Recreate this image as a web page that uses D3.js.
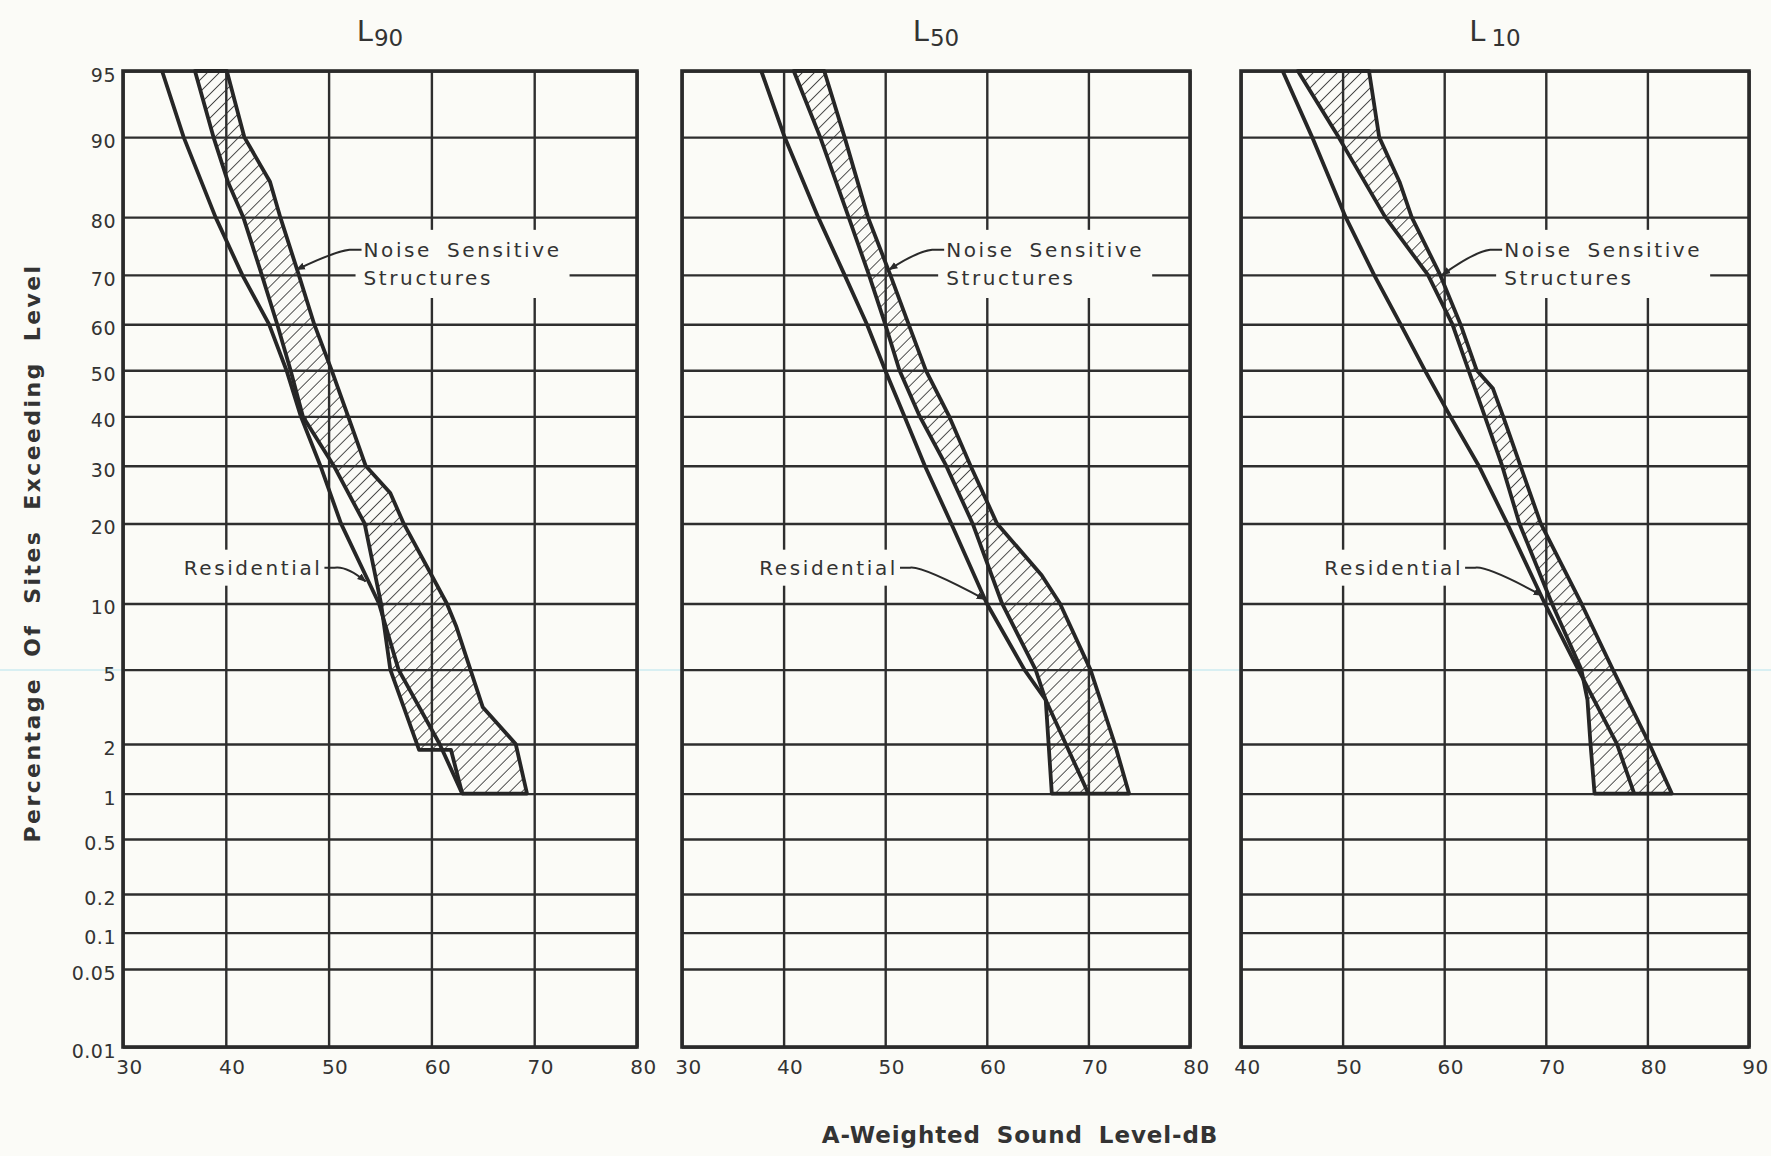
<!doctype html>
<html>
<head>
<meta charset="UTF-8">
<title>L90 L50 L10</title>
<script src="https://d3js.org/d3.v7.min.js"></script>
<style>
  body { margin: 0; background: #fbfbf7; }
  svg { display: block; }
  text { font-family: "DejaVu Sans", sans-serif; fill: #333; }
</style>
</head>
<body>
<script>
// ---- data: [percent of sites, dB] ----
var panelNames = ["90", "50", "10"];
var xDomains = [[30, 80], [30, 80], [40, 90]];
var xTicks = [[30, 40, 50, 60, 70, 80], [30, 40, 50, 60, 70, 80], [40, 50, 60, 70, 80, 90]];
var yTicks = [95, 90, 80, 70, 60, 50, 40, 30, 20, 10, 5, 2, 1, 0.5, 0.2, 0.1, 0.05, 0.01];
var yTickLabels = ["95", "90", "80", "70", "60", "50", "40", "30", "20", "10", "5", "2", "1", "0.5", "0.2", "0.1", "0.05", "0.01"];

var l90Residential = [[95,33.8],[90,35.9],[80,39.0],[70,41.6],[60,44.2],[50,45.9],[40,47.3],[30,49.2],[20,51.2],[10,54.9],[5,56.8],[2,60.8],[1,63.0]];
var l90NoiseLow = [[95,37.0],[90,38.8],[85,40.2],[80,41.7],[70,43.5],[60,45.0],[50,46.3],[40,47.5],[30,50.5],[20,53.5],[10,55.1],[5,56.0],[1.85,58.8],[1.85,61.9],[1,63.0]];
var l90NoiseHigh = [[95,40.1],[90,41.8],[85,44.3],[80,45.3],[70,47.1],[60,48.6],[50,50.3],[40,51.9],[30,53.6],[25,56.0],[20,57.3],[10,61.5],[8,62.4],[3.2,65.0],[2,68.2],[1,69.3]];

var l50Residential = [[95,37.8],[90,40.1],[80,43.4],[70,46.0],[60,48.2],[50,50.0],[40,51.9],[30,53.9],[20,56.5],[10,60.0],[5,63.7],[3.5,65.8],[1,70.0]];
var l50NoiseLow = [[95,41.0],[90,43.6],[80,46.4],[70,48.4],[60,50.0],[50,51.4],[40,53.4],[30,56.0],[20,58.6],[10,61.5],[5,64.8],[3.5,65.8],[1,66.4]];
var l50NoiseHigh = [[95,44.0],[90,46.0],[80,48.3],[70,50.5],[60,52.3],[50,54.0],[40,56.3],[30,58.4],[20,61.0],[13,65.4],[10,67.2],[5,70.2],[2,72.6],[1,74.0]];

var l10Residential = [[95,44.1],[90,47.0],[80,50.3],[70,53.1],[60,55.7],[50,58.1],[40,60.6],[30,63.4],[20,66.2],[10,69.9],[5,73.2],[2,77.0],[1,78.7]];
var l10NoiseLow = [[95,45.6],[90,49.6],[80,54.2],[70,58.4],[60,60.8],[50,62.4],[40,64.0],[30,65.7],[20,67.4],[10,70.6],[5,73.5],[3.5,74.1],[2,74.4],[1,74.8]];
var l10NoiseHigh = [[95,52.6],[90,53.6],[85,55.6],[80,56.8],[70,59.6],[60,61.6],[50,63.2],[46,64.8],[40,65.8],[30,67.5],[20,69.5],[10,73.5],[5,76.6],[2,80.2],[1,82.4]];

var residential = [l90Residential, l50Residential, l10Residential];
var noiseLow = [l90NoiseLow, l50NoiseLow, l10NoiseLow];
var noiseHigh = [l90NoiseHigh, l50NoiseHigh, l10NoiseHigh];

// label anchors in data units: text start dB, arrow tip [pct, dB]
var noiseLabelDb = [53.4, 56.0, 65.9];
var noiseTip = [[71, 46.9], [71, 50.4], [70, 59.8]];
var resLabelDb = [35.9, 37.6, 48.2];
var resTip = [[12.3, 53.6], [10.4, 59.8], [10.8, 69.6]];

// ---- layout ----
var W = 1771, H = 1156;
var lefts = [123, 682, 1241], widths = [514, 508, 508];
var plotTop = 71, plotBottom = 1047;

// inverse normal cdf (Acklam)
function probit(p) {
    var a = [-3.969683028665376e+01, 2.209460984245205e+02, -2.759285104469687e+02, 1.383577518672690e+02, -3.066479806614716e+01, 2.506628277459239e+00];
    var b = [-5.447609879822406e+01, 1.615858368580409e+02, -1.556989798598866e+02, 6.680131188771972e+01, -1.328068155288572e+01];
    var c = [-7.784894002430293e-03, -3.223964580411365e-01, -2.400758277161838e+00, -2.549732539343734e+00, 4.374664141464968e+00, 2.938163982698783e+00];
    var d = [7.784695709041462e-03, 3.224671290700398e-01, 2.445134137142996e+00, 3.754408661907416e+00];
    var pl = 0.02425, q, r;
    if (p < pl) {
        q = Math.sqrt(-2 * Math.log(p));
        return (((((c[0]*q+c[1])*q+c[2])*q+c[3])*q+c[4])*q+c[5]) / ((((d[0]*q+d[1])*q+d[2])*q+d[3])*q+1);
    }
    if (p <= 1 - pl) {
        q = p - 0.5; r = q * q;
        return (((((a[0]*r+a[1])*r+a[2])*r+a[3])*r+a[4])*r+a[5])*q / (((((b[0]*r+b[1])*r+b[2])*r+b[3])*r+b[4])*r+1);
    }
    q = Math.sqrt(-2 * Math.log(1 - p));
    return -(((((c[0]*q+c[1])*q+c[2])*q+c[3])*q+c[4])*q+c[5]) / ((((d[0]*q+d[1])*q+d[2])*q+d[3])*q+1);
}

var z = d3.scaleLinear().domain([probit(0.95), probit(0.0001)]).range([plotTop, plotBottom]);
// probability scale usable by d3.axis
function yP(pct) { return z(probit(pct / 100)); }
yP.range = function () { return z.range(); };
yP.copy = function () { return yP; };

var svg = d3.select("body").append("svg").attr("width", W).attr("height", H);
svg.append("rect").attr("width", W).attr("height", H).attr("fill", "#fbfbf7");

var defs = svg.append("defs");
defs.append("pattern").attr("id", "hatch")
    .attr("width", 8.5).attr("height", 8.5)
    .attr("patternUnits", "userSpaceOnUse")
    .attr("patternTransform", "rotate(45)")
    .append("line").attr("x1", 0).attr("y1", 0).attr("x2", 0).attr("y2", 8.5)
    .attr("stroke", "#333").attr("stroke-width", 1.7);
defs.append("marker").attr("id", "arrow")
    .attr("viewBox", "0 0 10 10").attr("refX", 9).attr("refY", 5)
    .attr("markerWidth", 9).attr("markerHeight", 9)
    .attr("markerUnits", "userSpaceOnUse").attr("orient", "auto")
    .append("path").attr("d", "M0,1 L10,5 L0,9 Z").attr("fill", "#2a2a2a");

// faint scan line
svg.append("line").attr("x1", 0).attr("x2", W).attr("y1", 670).attr("y2", 670)
    .attr("stroke", "#cdebf0").attr("stroke-width", 1.5);

panelNames.forEach(function (pname, i) {
    var x = d3.scaleLinear().domain(xDomains[i]).range([0, widths[i]]);
    var g = svg.append("g").attr("transform", "translate(" + lefts[i] + ",0)");
    var h = plotBottom - plotTop;

    // horizontal grid + y labels
    var ya = g.append("g").call(d3.axisLeft(yP).tickValues(yTicks).tickSize(-widths[i]).tickPadding(7)
        .tickFormat(function (d, k) { return i === 0 ? yTickLabels[k] : ""; }));
    ya.select(".domain").remove();
    ya.selectAll("line").attr("stroke", "#2e2e2e").attr("stroke-width", 2.4);
    ya.selectAll("text").attr("font-size", 19).attr("dy", "0.55em").attr("fill", "#3a3a3a")
        .attr("letter-spacing", 0.5).style("font-family", "DejaVu Sans, sans-serif");

    // vertical grid + x labels
    var xa = g.append("g").attr("transform", "translate(0," + plotBottom + ")")
        .call(d3.axisBottom(x).tickValues(xTicks[i]).tickSize(-h).tickPadding(13));
    xa.select(".domain").remove();
    xa.selectAll("line").attr("stroke", "#2e2e2e").attr("stroke-width", 2.4);
    xa.selectAll("text").attr("font-size", 20).attr("dx", 6).attr("fill", "#3a3a3a")
        .attr("letter-spacing", 0.5).style("font-family", "DejaVu Sans, sans-serif");

    // white boxes where labels break the grid
    var nx = x(noiseLabelDb[i]);
    var ny1 = yP(74.6), ny2 = yP(69.4);
    g.append("rect").attr("x", nx - 8).attr("y", ny1 - 20).attr("width", 214).attr("height", ny2 - ny1 + 40)
        .attr("fill", "#fbfbf7");
    var rx = x(resLabelDb[i]);
    var ry = yP(13.9);
    var rBox = g.append("rect").attr("x", rx - 6).attr("y", ry - 18).attr("height", 36)
        .attr("fill", "#fbfbf7");

    // border
    g.append("rect").attr("x", 0).attr("y", plotTop).attr("width", widths[i]).attr("height", h)
        .attr("fill", "none").attr("stroke", "#2a2a2a").attr("stroke-width", 3.6);

    var line = d3.line().x(function (d) { return x(d[1]); }).y(function (d) { return yP(d[0]); });

    // hatched band
    var band = noiseLow[i].concat(noiseHigh[i].slice().reverse());
    g.append("path").attr("d", line(band) + "Z")
        .attr("fill", "url(#hatch)").attr("stroke", "#262626").attr("stroke-width", 3.8)
        .attr("stroke-linejoin", "round");

    g.append("path").attr("d", line(residential[i]))
        .attr("fill", "none").attr("stroke", "#262626").attr("stroke-width", 3.8)
        .attr("stroke-linejoin", "round");

    // labels
    g.append("text").attr("x", nx).attr("y", ny1 + 7).attr("font-size", 20)
        .attr("letter-spacing", 2.6).attr("word-spacing", 6).text("Noise Sensitive");
    g.append("text").attr("x", nx).attr("y", ny2 + 7).attr("font-size", 20)
        .attr("letter-spacing", 2.6).text("Structures");
    var tip = [x(noiseTip[i][1]), yP(noiseTip[i][0])];
    g.append("path")
        .attr("d", "M" + (nx - 2) + "," + ny1 + " L" + (nx - 14) + "," + ny1 +
            " Q" + (nx - 30) + "," + (ny1 + 2) + " " + tip[0] + "," + tip[1])
        .attr("fill", "none").attr("stroke", "#2a2a2a").attr("stroke-width", 2)
        .attr("marker-end", "url(#arrow)");

    var rText = g.append("text").attr("x", rx).attr("y", ry + 7).attr("font-size", 20)
        .attr("letter-spacing", 2.6).text("Residential");
    var rEnd = rx + rText.node().getComputedTextLength();
    rBox.attr("width", rEnd - rx + 10);
    var rtip = [x(resTip[i][1]), yP(resTip[i][0])];
    g.append("path")
        .attr("d", "M" + (rEnd + 2) + "," + ry + " L" + (rEnd + 12) + "," + ry +
            " Q" + (rEnd + 24) + "," + (ry - 2) + " " + rtip[0] + "," + rtip[1])
        .attr("fill", "none").attr("stroke", "#2a2a2a").attr("stroke-width", 2)
        .attr("marker-end", "url(#arrow)");

    // title L with subscript
    var title = g.append("text").attr("x", widths[i] / 2).attr("y", 41).attr("text-anchor", "middle");
    title.append("tspan").attr("font-size", 29).text("L");
    title.append("tspan").attr("font-size", 23).attr("dy", 5).attr("dx", i === 2 ? 6 : 1).text(pname);
});

// axis titles
svg.append("text").attr("transform", "translate(40,553) rotate(-90)")
    .attr("text-anchor", "middle").attr("font-size", 22).attr("font-weight", "bold")
    .attr("letter-spacing", 2.4).attr("word-spacing", 10).attr("fill", "#333")
    .text("Percentage Of Sites Exceeding Level");
svg.append("text").attr("x", 1020).attr("y", 1143)
    .attr("text-anchor", "middle").attr("font-size", 23).attr("font-weight", "bold")
    .attr("letter-spacing", 0.9).attr("word-spacing", 7).attr("fill", "#333")
    .text("A-Weighted Sound Level-dB");
</script>
</body>
</html>
